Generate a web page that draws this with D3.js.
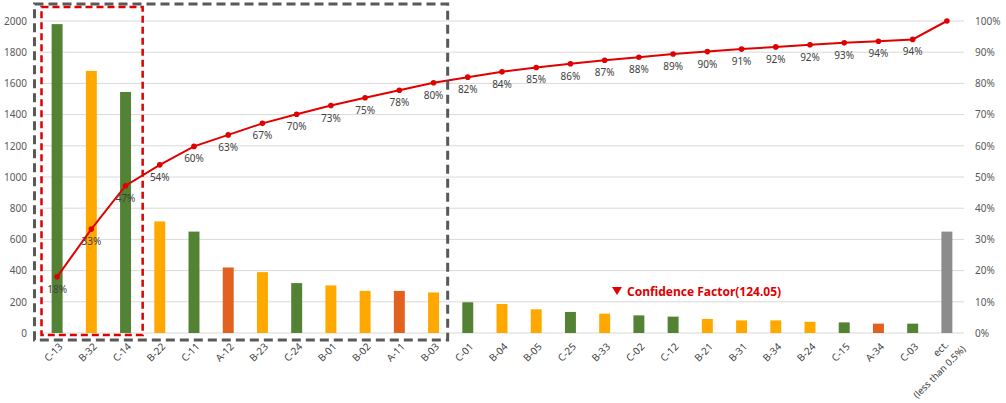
<!DOCTYPE html>
<html>
<head>
<meta charset="utf-8">
<script src="https://cdn.jsdelivr.net/npm/d3@7"></script>
<style>
  html, body { margin: 0; padding: 0; background: #ffffff; }
  svg { display: block; }
  text { font-family: "Noto Sans", "DejaVu Sans", sans-serif; }
</style>
</head>
<body>
<svg id="chart" width="1006" height="403"></svg>
<script>
// ---------------- data ----------------
const categories = ["C-13","B-32","C-14","B-22","C-11","A-12","B-23","C-24","B-01","B-02","A-11","B-03",
  "C-01","B-04","B-05","C-25","B-33","C-02","C-12","B-21","B-31","B-34","B-24","C-15","A-34","C-03","ect."];
const values = [1980,1680,1545,715,650,420,390,320,305,270,270,260,
  197,186,152,135,124,113,105,90,81,81,72,68,60,60,650];
const groups = ["C","B","C","B","C","A","B","C","B","B","A","B",
  "C","B","B","C","B","C","C","B","B","B","B","C","A","C","other"];
const cumPct = [18.0,33.3,47.2,53.9,59.8,63.5,67.2,70.1,72.9,75.4,77.8,80.2,
  82.0,83.7,85.1,86.3,87.4,88.4,89.4,90.2,91.0,91.7,92.4,93.0,93.5,94.1,100];
const pctLabels = ["18%","33%","47%","54%","60%","63%","67%","70%","73%","75%","78%","80%",
  "82%","84%","85%","86%","87%","88%","89%","90%","91%","92%","92%","93%","94%","94%",""];
const leftTicks = [0,200,400,600,800,1000,1200,1400,1600,1800,2000];
const rightTicks = [0,10,20,30,40,50,60,70,80,90,100];
const lastLabelNote = "(less than 0.5%)";
const annotationText = "Confidence Factor(124.05)";

// ---------------- layout ----------------
const svg = d3.select("#chart");
const L = 40, R = 964, T = 21, B = 333;
const colors = { C: "#548235", B: "#FFA800", A: "#E2611F", other: "#8C8C8C" };

const x = d3.scaleBand().domain(categories).range([L, R]).paddingInner(0.68).paddingOuter(0.34);
const xc = d => x(d) + x.bandwidth() / 2;
const y = d3.scaleLinear().domain([0, 2000]).range([B, T]);
const y2 = d3.scaleLinear().domain([0, 100]).range([B, T]);

// gridlines
svg.append("g").selectAll("line").data(leftTicks).join("line")
  .attr("x1", L).attr("x2", R)
  .attr("y1", d => y(d)).attr("y2", d => y(d))
  .attr("stroke", "#D9D9D9").attr("stroke-width", 1);

// left axis
const leftAxis = d3.axisLeft(y).tickValues(leftTicks).tickSize(0).tickPadding(13)
  .tickFormat(d3.format("d"));
const gl = svg.append("g").attr("transform", `translate(${L},0)`).call(leftAxis);
gl.select(".domain").remove();
gl.selectAll("text").attr("font-size", 10).attr("fill", "#595959")
  .attr("font-family", "Noto Sans, DejaVu Sans, sans-serif");

// right axis
const rightAxis = d3.axisRight(y2).tickValues(rightTicks).tickSize(0).tickPadding(11)
  .tickFormat(d => d + "%");
const gr = svg.append("g").attr("transform", `translate(${R},0)`).call(rightAxis);
gr.select(".domain").remove();
gr.selectAll("text").attr("font-size", 10).attr("fill", "#595959")
  .attr("font-family", "Noto Sans, DejaVu Sans, sans-serif");

// bars
svg.append("g").selectAll("rect").data(categories).join("rect")
  .attr("x", d => x(d))
  .attr("width", x.bandwidth())
  .attr("y", (d, i) => y(values[i]))
  .attr("height", (d, i) => y(0) - y(values[i]))
  .attr("fill", (d, i) => colors[groups[i]]);

// x labels
const xl = svg.append("g");
categories.forEach((c, i) => {
  if (i === categories.length - 1) {
    const t = xl.append("text")
      .attr("transform", `translate(${xc(c) - 3},${B + 7}) rotate(-45)`)
      .attr("text-anchor", "end")
      .attr("font-size", 10).attr("fill", "#404040");
    t.append("tspan").attr("x", 0).attr("dy", "0.75em").text(c);
    t.append("tspan").attr("x", 9).attr("dy", "1.6em").attr("font-size", 9.5).text(lastLabelNote);
  } else {
    xl.append("text")
      .attr("transform", `translate(${xc(c) + 1},${B + 9}) rotate(-45)`)
      .attr("text-anchor", "end")
      .attr("dy", "0.75em")
      .attr("font-size", 10).attr("fill", "#404040")
      .text(c);
  }
});

// cumulative line
const line = d3.line().x((d, i) => xc(categories[i])).y(d => y2(d));
svg.append("path").datum(cumPct)
  .attr("d", line).attr("fill", "none")
  .attr("stroke", "#E00000").attr("stroke-width", 2);
svg.append("g").selectAll("circle").data(cumPct).join("circle")
  .attr("cx", (d, i) => xc(categories[i])).attr("cy", d => y2(d))
  .attr("r", 2.8).attr("fill", "#E00000");
svg.append("g").selectAll("text").data(cumPct).join("text")
  .attr("x", (d, i) => xc(categories[i]))
  .attr("y", d => y2(d) + 16)
  .attr("text-anchor", "middle")
  .attr("font-size", 10).attr("fill", "#404040")
  .text((d, i) => pctLabels[i]);

// dashed boxes
const bw = x.step();
svg.append("rect")
  .attr("x", L - 5.5).attr("y", 4)
  .attr("width", (x(categories[11]) + x.bandwidth() + (bw - x.bandwidth()) / 2 - 3) - (L - 5.5))
  .attr("height", 336)
  .attr("fill", "none").attr("stroke", "#595959").attr("stroke-width", 3)
  .attr("stroke-dasharray", "9,5");
svg.append("rect")
  .attr("x", L + 1.5).attr("y", 7)
  .attr("width", (x(categories[2]) + x.bandwidth() + (bw - x.bandwidth()) / 2) - (L + 1.5))
  .attr("height", 328)
  .attr("fill", "none").attr("stroke", "#E00000").attr("stroke-width", 2.5)
  .attr("stroke-dasharray", "7,4");

// annotation
const ax = 617, ay = 291;
svg.append("path")
  .attr("d", `M${ax - 5},${ay - 4} L${ax + 5},${ay - 4} L${ax},${ay + 4} Z`)
  .attr("fill", "#E00000");
svg.append("text")
  .attr("x", ax + 10).attr("y", ay + 4.5)
  .attr("font-size", 12).attr("font-weight", "bold").attr("fill", "#E00000")
  .text(annotationText);
</script>
</body>
</html>
